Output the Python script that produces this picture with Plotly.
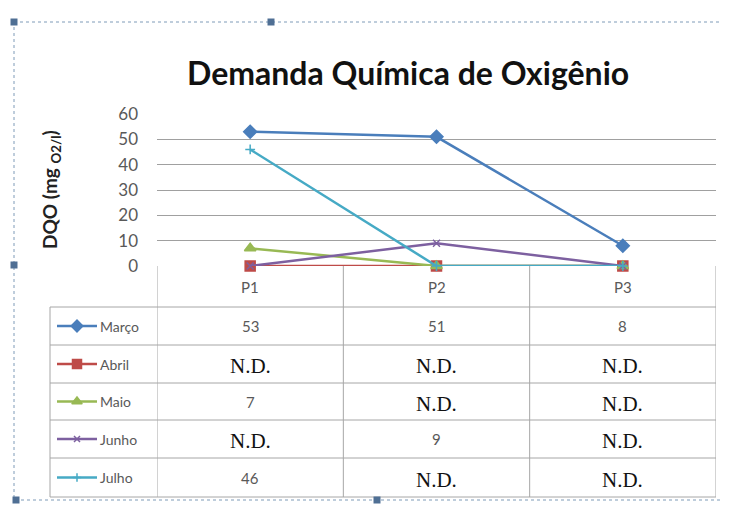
import plotly.graph_objects as go

# Data (None = N.D., plotted as 0 like Excel does)
pontos = ["P1", "P2", "P3"]
meses = ["Março", "Abril", "Maio", "Junho", "Julho"]
marco = [53, 51, 8]
abril = [None, None, None]
maio = [7, None, None]
junho = [None, 9, None]
julho = [46, None, None]
y_ticks = [0, 10, 20, 30, 40, 50, 60]

series = [marco, abril, maio, junho, julho]
cores = ["#4A7EBB", "#BE4B48", "#98B954", "#7D60A0", "#46AAC5"]
simbolos = ["diamond", "square", "triangle-up", "x-thin-open", "cross-thin-open"]
tamanhos = [10, 10, 10, 7, 7]

# page body has an 8px margin, so the figure is shrunk and shifted by that much
OFF = 8
W, H = 729 - OFF, 505 - OFF
# plot area in screen pixels
PX0, PX1, PY_TOP, PY_BOT = 157, 716, 114, 266
# table geometry (screen pixels)
TAB_LEFT = 50
row_edges = [266, 307, 345, 383, 420, 458, 497]

fig = go.Figure()

for nome, vals, cor, simb, tam in zip(meses, series, cores, simbolos, tamanhos):
    fig.add_trace(go.Scatter(
        x=pontos, y=[v if v is not None else 0 for v in vals],
        mode="lines+markers", name=nome,
        line=dict(color=cor, width=2.5),
        marker=dict(symbol=simb, size=tam, color=cor, line=dict(color=cor, width=1.5)),
        cliponaxis=False, showlegend=False,
        xaxis="x", yaxis="y",
    ))

# legend keys inside the table (pixel overlay axes x2/y2)
key_x = [57, 97]
for i, (nome, cor, simb, tam) in enumerate(zip(meses, cores, simbolos, tamanhos)):
    yc = (row_edges[i + 1] + row_edges[i + 2]) / 2
    fig.add_trace(go.Scatter(
        x=key_x, y=[yc, yc], mode="lines", line=dict(color=cor, width=2.5),
        showlegend=False, hoverinfo="skip", xaxis="x2", yaxis="y2",
    ))
    fig.add_trace(go.Scatter(
        x=[sum(key_x) / 2], y=[yc], mode="markers",
        marker=dict(symbol=simb, size=tam - 1, color=cor, line=dict(color=cor, width=1.5)),
        showlegend=False, hoverinfo="skip", xaxis="x2", yaxis="y2",
    ))

shapes = []
grid = "#a6a6a6"
# horizontal table lines
for ye in row_edges[1:]:
    shapes.append(dict(type="line", xref="x2", yref="y2", x0=TAB_LEFT, x1=PX1, y0=ye, y1=ye,
                       line=dict(color=grid, width=1)))
# vertical table lines
shapes.append(dict(type="line", xref="x2", yref="y2", x0=TAB_LEFT, x1=TAB_LEFT,
                   y0=row_edges[1], y1=row_edges[-1], line=dict(color=grid, width=1)))
for xe in [-0.5, 0.5, 1.5, 2.5]:
    shapes.append(dict(type="line", xref="x", yref="y2", x0=xe, x1=xe,
                       y0=row_edges[0], y1=row_edges[-1], line=dict(color=grid, width=1)))

# dashed selection frame with handles
frame = "#7f9bb8"
shapes.append(dict(type="rect", xref="x2", yref="y2", x0=14, x1=725, y0=22, y1=500,
                   line=dict(color=frame, width=1, dash="dot")))
for hx, hy in [(14, 22), (271, 22), (725, 22), (14, 265), (725, 265),
               (16, 500), (377, 500), (725, 500)]:
    shapes.append(dict(type="rect", xref="x2", yref="y2", x0=hx - 3.5, x1=hx + 3.5,
                       y0=hy - 3.5, y1=hy + 3.5, fillcolor="#4f6f94", line=dict(width=0)))

ann = []
txt_gray = "#595959"
# header row: P1, P2, P3
yh = (row_edges[0] + row_edges[1]) / 2
for p in pontos:
    ann.append(dict(x=p, y=yh, xref="x", yref="y2", text=p, showarrow=False,
                    font=dict(family="Lato, Noto Sans", size=15, color=txt_gray)))
# data rows
for i, (nome, vals) in enumerate(zip(meses, series)):
    yc = (row_edges[i + 1] + row_edges[i + 2]) / 2
    ann.append(dict(x=98, y=yc, xref="x2", yref="y2", text=nome, showarrow=False,
                    xanchor="left", font=dict(family="Lato, Noto Sans", size=14, color=txt_gray)))
    for p, v in zip(pontos, vals):
        if v is None:
            ann.append(dict(x=p, y=yc + 2, xref="x", yref="y2", text="N.D.", showarrow=False,
                            bgcolor="white",
                            font=dict(family="Liberation Serif, DejaVu Serif", size=21, color="#111111")))
        else:
            ann.append(dict(x=p, y=yc, xref="x", yref="y2", text=str(v), showarrow=False,
                            font=dict(family="Lato, Noto Sans", size=15, color=txt_gray)))

# title and y-axis title
ann.append(dict(x=408, y=72, xref="x2", yref="y2", text="<b>Demanda Química de Oxigênio</b>",
                showarrow=False, font=dict(family="Lato, Noto Sans", size=32, color="#111111")))
ann.append(dict(x=51, y=190, xref="x2", yref="y2", text="<b>DQO (mg <sub>O2/l</sub>)</b>",
                textangle=-90, showarrow=False,
                font=dict(family="Lato, Noto Sans", size=19, color="#222222")))

fig.update_layout(
    width=W, height=H,
    margin=dict(l=0, r=0, t=0, b=0, pad=0, autoexpand=False),
    paper_bgcolor="white", plot_bgcolor="rgba(0,0,0,0)",
    showlegend=False,
    xaxis=dict(domain=[(PX0 - OFF) / W, (PX1 - OFF) / W], range=[-0.5, 2.5], type="category",
               showticklabels=False, showgrid=False, zeroline=False, fixedrange=True,
               automargin=False),
    yaxis=dict(domain=[(H + OFF - PY_BOT) / H, (H + OFF - PY_TOP) / H], range=[0, 60],
               tickvals=y_ticks, gridcolor="#a0a0a0", gridwidth=1.3, zeroline=False,
               showline=False, tickfont=dict(family="Lato, Noto Sans", size=17, color=txt_gray),
               ticks="", ticklabelstandoff=18, fixedrange=True, automargin=False),
    xaxis2=dict(domain=[0, 1], range=[OFF, OFF + W], visible=False, fixedrange=True,
                anchor="y2", automargin=False),
    yaxis2=dict(domain=[0, 1], range=[OFF + H, OFF], visible=False, fixedrange=True,
                anchor="x2", automargin=False),
    shapes=shapes,
    annotations=ann,
)

fig.write_html("out.html")
